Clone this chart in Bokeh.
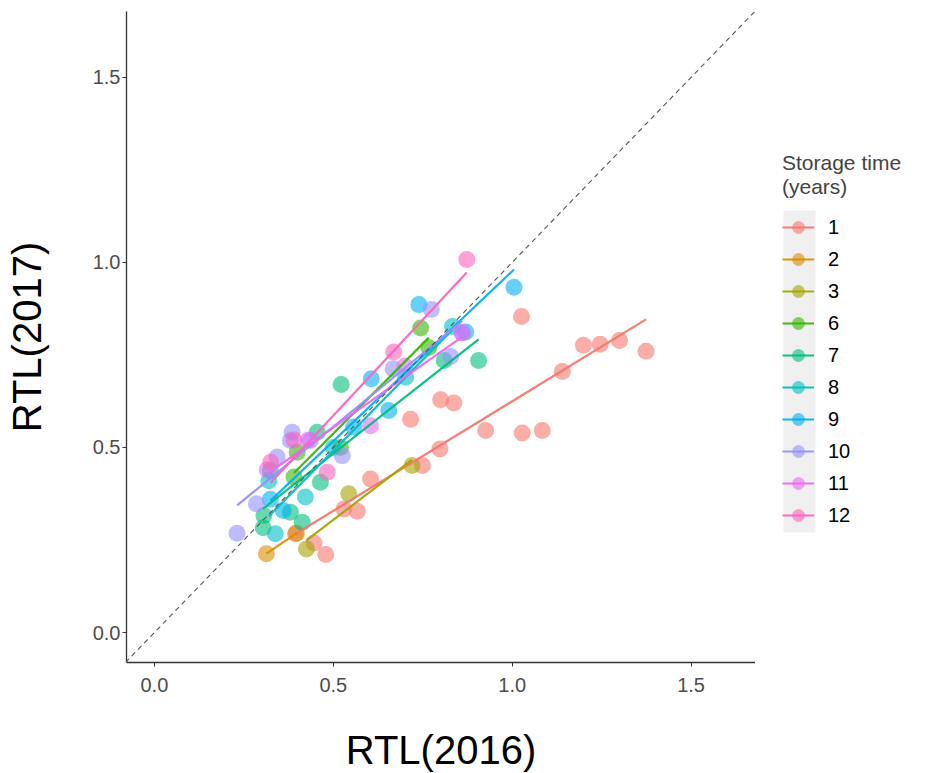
import numpy as np
from bokeh.plotting import figure
from bokeh.layouts import row
from bokeh.models import (Range1d, FixedTicker, NumeralTickFormatter, Slope,
                          Legend, LegendItem, ColumnDataSource, BoxAnnotation)
from bokeh.embed import file_html
from bokeh.resources import INLINE

# ---- data (RTL 2016 vs RTL 2017, by storage time in years) ----
groups = ["1", "2", "3", "6", "7", "8", "9", "10", "11", "12"]
colors = ["#F8766D", "#D89000", "#A3A500", "#39B600", "#00BF7D",
          "#00BFC4", "#00B0F6", "#9590FF", "#E76BF3", "#FF62BC"]

x_1 = [0.479, 0.446, 0.394, 0.53, 0.567, 0.604, 0.749, 0.798, 0.716, 0.80,
       0.837, 0.926, 1.028, 1.084, 1.026, 1.14, 1.199, 1.246, 1.30, 1.374]
y_1 = [0.211, 0.242, 0.267, 0.334, 0.328, 0.415, 0.451, 0.496, 0.576, 0.629,
       0.62, 0.546, 0.539, 0.546, 0.854, 0.705, 0.776, 0.779, 0.789, 0.76]
x_2 = [0.313, 0.397]
y_2 = [0.213, 0.268]
x_3 = [0.425, 0.543, 0.72]
y_3 = [0.226, 0.375, 0.451]
x_6 = [0.39, 0.399, 0.52, 0.744, 0.767]
y_6 = [0.42, 0.487, 0.50, 0.823, 0.77]
x_7 = [0.306, 0.304, 0.324, 0.38, 0.413, 0.455, 0.464, 0.522, 0.81, 0.906]
y_7 = [0.316, 0.283, 0.438, 0.325, 0.298, 0.541, 0.406, 0.67, 0.735, 0.735]
x_8 = [0.338, 0.32, 0.422, 0.50, 0.702, 0.833]
y_8 = [0.267, 0.41, 0.366, 0.50, 0.69, 0.827]
x_9 = [0.324, 0.36, 0.557, 0.606, 0.655, 0.739, 0.87, 1.005]
y_9 = [0.36, 0.33, 0.555, 0.686, 0.60, 0.886, 0.812, 0.933]
x_10 = [0.231, 0.285, 0.343, 0.38, 0.385, 0.436, 0.525, 0.667, 0.774, 0.828, 0.86]
y_10 = [0.268, 0.348, 0.474, 0.519, 0.541, 0.519, 0.478, 0.713, 0.873, 0.746, 0.81]
x_11 = [0.315, 0.43, 0.604, 0.70, 0.86]
y_11 = [0.44, 0.52, 0.559, 0.72, 0.81]
x_12 = [0.325, 0.39, 0.483, 0.669, 0.873]
y_12 = [0.46, 0.52, 0.433, 0.758, 1.008]

xs = [x_1, x_2, x_3, x_6, x_7, x_8, x_9, x_10, x_11, x_12]
ys = [y_1, y_2, y_3, y_6, y_7, y_8, y_9, y_10, y_11, y_12]

ticks = [0.0, 0.5, 1.0, 1.5]

FONT = "Liberation Sans"

# ---------------- main panel ----------------
p = figure(output_backend="svg", toolbar_location=None,
           x_range=Range1d(-0.078, 1.68), y_range=Range1d(-0.081, 1.678),
           frame_width=629, frame_height=651,
           min_border_left=126, min_border_top=11, min_border_bottom=111,
           min_border_right=0)
p.outline_line_color = None
p.grid.visible = False
p.background_fill_color = "white"

# identity dashed line
p.add_layout(Slope(gradient=1, y_intercept=0, line_color="#555555",
                   line_width=1.1, line_dash="5 4"))

for xv, yv, c in zip(xs, ys, colors):
    src = ColumnDataSource(dict(x=xv, y=yv))
    p.scatter("x", "y", source=src, size=17, fill_color=c,
              fill_alpha=0.6, line_color=None)

for xv, yv, c in zip(xs, ys, colors):
    xa = np.array(xv)
    ya = np.array(yv)
    k, b = np.polyfit(xa, ya, 1)
    x0, x1 = xa.min(), xa.max()
    p.line([x0, x1], [k * x0 + b, k * x1 + b], line_color=c,
           line_width=2.2, line_alpha=0.95)

for ax in (p.xaxis, p.yaxis):
    ax.ticker = FixedTicker(ticks=ticks)
    ax.formatter = NumeralTickFormatter(format="0.0")
    ax.axis_line_color = "#333333"
    ax.axis_line_width = 1.3
    ax.major_tick_line_color = "#333333"
    ax.major_tick_out = 4
    ax.major_tick_in = 0
    ax.minor_tick_line_color = None
    ax.major_label_text_font = FONT
    ax.major_label_text_font_size = "20px"
    ax.major_label_text_color = "#4D4D4D"
    ax.axis_label_text_font = FONT
    ax.axis_label_text_font_style = "normal"
    ax.axis_label_text_color = "black"
    ax.axis_label_text_font_size = "40px"

p.xaxis.axis_label = "RTL(2016)"
p.yaxis.axis_label = "RTL(2017)"
p.xaxis.major_label_standoff = 11
p.yaxis.major_label_standoff = 2
p.xaxis.axis_label_standoff = 33
p.yaxis.axis_label_standoff = 41

# ---------------- legend panel (frame aligned with main frame) ----------------
q = figure(output_backend="svg", toolbar_location=None,
           frame_width=184, frame_height=651,
           min_border_left=0, min_border_right=0,
           min_border_top=11, min_border_bottom=111,
           x_range=Range1d(0, 184), y_range=Range1d(0, 651))
q.axis.visible = False
q.grid.visible = False
q.outline_line_color = None

# grey background behind legend keys (frame pixel units)
q.add_layout(BoxAnnotation(left=28, right=60, bottom=130, top=452,
                           fill_color="#EBEBEB", fill_alpha=0.75,
                           line_color=None, level="underlay"))

nan = float("nan")
items = []
for g, c in zip(groups, colors):
    s = q.scatter(x=[nan], y=[nan], size=16, fill_color=c, fill_alpha=0.6,
                  line_color=None)
    l = q.line(x=[nan, nan], y=[nan, nan], line_color=c, line_width=2.2,
               line_alpha=0.95)
    items.append(LegendItem(label=g, renderers=[s, l]))

legend = Legend(items=items, location=(27, 131), orientation="vertical",
                glyph_width=32, glyph_height=32, label_height=32,
                spacing=0, padding=0, margin=0, label_standoff=14,
                border_line_color=None, background_fill_alpha=0,
                title="Storage time\n(years)",
                title_text_font=FONT, title_text_font_size="21px",
                title_text_font_style="normal", title_standoff=12,
                label_text_font=FONT, label_text_font_size="20px",
                label_text_color="black")
q.add_layout(legend, "center")

layout = row(p, q, spacing=0)
open("out.html", "w").write(file_html(layout, INLINE))
